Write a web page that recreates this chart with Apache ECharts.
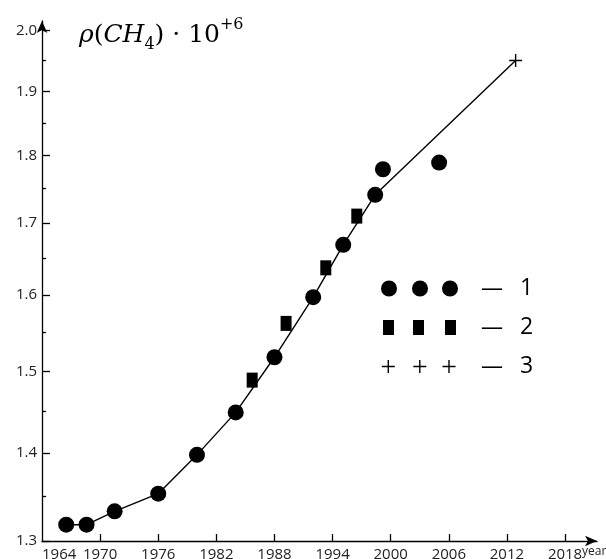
<!DOCTYPE html>
<html>
<head>
<meta charset="utf-8">
<script src="https://cdn.jsdelivr.net/npm/echarts@6/dist/echarts.min.js"></script>
<style>
  html, body { margin: 0; padding: 0; background: #fff; }
  #chart { width: 606px; height: 559px; }
</style>
</head>
<body>
<div id="chart"></div>
<script>
// series 1 (circles)
const years1 = [1966.5, 1968.6, 1971.5, 1976, 1980, 1984, 1988, 1992, 1995.1, 1998.4, 1999.2, 2005];
const values1 = [1.318, 1.318, 1.333, 1.353, 1.398, 1.449, 1.518, 1.597, 1.669, 1.741, 1.779, 1.789];
// series 2 (squares)
const years2 = [1985.7, 1989.2, 1993.3, 1996.5];
const values2 = [1.489, 1.562, 1.637, 1.71];
// series 3 (plus)
const years3 = [2012.9];
const values3 = [1.95];
// trend line
const lineYears = [1966.5, 1968.6, 1971.5, 1976, 1980, 1984, 1988, 1992, 1995.1, 1998.4, 2012.9];
const lineValues = [1.318, 1.318, 1.333, 1.353, 1.398, 1.449, 1.518, 1.597, 1.669, 1.741, 1.95];

const xTicks = [1970, 1976, 1982, 1988, 1994, 2000, 2006, 2012, 2018];
const xLabels = [1964, 1970, 1976, 1982, 1988, 1994, 2000, 2006, 2012, 2018];
const yMajor = [1.3, 1.4, 1.5, 1.6, 1.7, 1.8, 1.9, 2.0];
const yMinor = [1.35, 1.45, 1.55, 1.65, 1.75, 1.85, 1.95];

const zip = (xs, ys) => xs.map((x, i) => [x, ys[i]]);

const corners = 'M0,0h0.01v0.01h-0.01z M76.99,15.99h0.01v0.01h-0.01z ';
const circleIcon = 'path://' + corners +
  'M0,8a8,8 0 1,0 16,0a8,8 0 1,0 -16,0z M31,8a8,8 0 1,0 16,0a8,8 0 1,0 -16,0z M61,8a8,8 0 1,0 16,0a8,8 0 1,0 -16,0z';
const squareIcon = 'path://' + corners +
  'M2,0.5h11v15h-11z M32,0.5h11v15h-11z M64,0.5h11v15h-11z';
const plusIcon = 'path://' + corners +
  'M6.6,1.5h1.4v13h-1.4z M0.8,7.3h13v1.4h-13z ' +
  'M38.1,1.5h1.4v13h-1.4z M32.3,7.3h13v1.4h-13z ' +
  'M67.3,1.5h1.4v13h-1.4z M61.5,7.3h13v1.4h-13z';
const plusSymbol = 'path://M5.8,0h1.4v13h-1.4z M0,5.8h13v1.4h-13z';

const labelFont = 'Open Sans';
const serif = { fontFamily: 'DejaVu Serif', fontWeight: 'normal', color: '#000' };
const chart = echarts.init(document.getElementById('chart'));
chart.setOption({
  animation: false,
  backgroundColor: '#fff',
  title: {
    left: 74,
    top: 12,
    text: '{i|ρ}{n|(}{i|CH}{s|4}{n|) · 10}{p|+6}',
    textStyle: {
      fontWeight: 'normal',
      rich: {
        i: Object.assign({ fontStyle: 'italic', fontSize: 25, lineHeight: 36 }, serif),
        n: Object.assign({ fontSize: 25, lineHeight: 36 }, serif),
        s: Object.assign({ fontSize: 16, lineHeight: 16, verticalAlign: 'bottom' }, serif),
        p: Object.assign({ fontSize: 16, lineHeight: 16, verticalAlign: 'top' }, serif)
      }
    }
  },
  legend: {
    orient: 'vertical',
    left: 376,
    top: 272,
    itemWidth: 77,
    itemHeight: 16,
    itemGap: 16,
    selectedMode: false,
    data: [
      { name: '1', icon: circleIcon },
      { name: '2', icon: squareIcon },
      { name: '3', icon: plusIcon }
    ],
    formatter: name => '{d|—}{n|' + name + '}',
    textStyle: {
      rich: {
        d: { fontFamily: labelFont, fontSize: 22, lineHeight: 30, padding: [0, 17, 0, 18], color: '#000' },
        n: { fontFamily: labelFont, fontSize: 23, lineHeight: 30, color: '#000' }
      }
    }
  },
  grid: { left: 42, right: 9, top: 21, bottom: 18, containLabel: false, outerBoundsMode: 'none' },
  xAxis: {
    type: 'value',
    min: 1964,
    max: 2021.3,
    name: 'year',
    nameLocation: 'end',
    nameGap: -15,
    nameMoveOverlap: false,
    nameTextStyle: {
      fontFamily: labelFont, fontSize: 12, color: '#222',
      align: 'left', verticalAlign: 'top', padding: [5, 0, 0, 0]
    },
    axisLine: {
      show: true,
      lineStyle: { color: '#000', width: 1.3 },
      symbol: ['none', 'arrow'],
      symbolSize: [8, 12]
    },
    axisTick: { show: true, inside: true, length: 7, customValues: xTicks, lineStyle: { color: '#000', width: 1.3 } },
    axisLabel: {
      customValues: xLabels,
      alignMinLabel: 'left',
      margin: 6,
      fontFamily: labelFont,
      fontSize: 15,
      color: '#222',
      formatter: v => String(Math.round(v))
    },
    splitLine: { show: false }
  },
  yAxis: [
    {
      type: 'log',
      min: 1.3,
      max: 2.016,
      axisLine: {
        show: true,
        lineStyle: { color: '#000', width: 1.3 },
        symbol: ['none', 'arrow'],
        symbolSize: [8, 12]
      },
      axisTick: { show: true, inside: true, length: 8, customValues: yMajor, lineStyle: { color: '#000', width: 1.3 } },
      axisLabel: {
        customValues: yMajor,
        margin: 5,
        fontFamily: labelFont,
        fontSize: 15,
        color: '#222',
        formatter: v => Number(v).toFixed(1)
      },
      splitLine: { show: false }
    },
    {
      type: 'log',
      min: 1.3,
      max: 2.016,
      position: 'left',
      axisLine: { show: false },
      axisTick: { show: true, inside: true, length: 4, customValues: yMinor, lineStyle: { color: '#000', width: 1.3 } },
      axisLabel: { show: false },
      splitLine: { show: false }
    }
  ],
  series: [
    {
      name: 'trend',
      type: 'line',
      data: zip(lineYears, lineValues),
      showSymbol: false,
      symbol: 'none',
      lineStyle: { color: '#000', width: 1.4 },
      z: 1
    },
    {
      name: '1',
      type: 'scatter',
      data: zip(years1, values1),
      symbol: 'circle',
      symbolSize: 16,
      itemStyle: { color: '#000', opacity: 1 },
      z: 3
    },
    {
      name: '2',
      type: 'scatter',
      data: zip(years2, values2),
      symbol: 'rect',
      symbolSize: [11, 15],
      itemStyle: { color: '#000', opacity: 1 },
      z: 3
    },
    {
      name: '3',
      type: 'scatter',
      data: zip(years3, values3),
      symbol: plusSymbol,
      symbolSize: 13,
      itemStyle: { color: '#000', opacity: 1 },
      z: 3
    }
  ]
});
</script>
</body>
</html>
